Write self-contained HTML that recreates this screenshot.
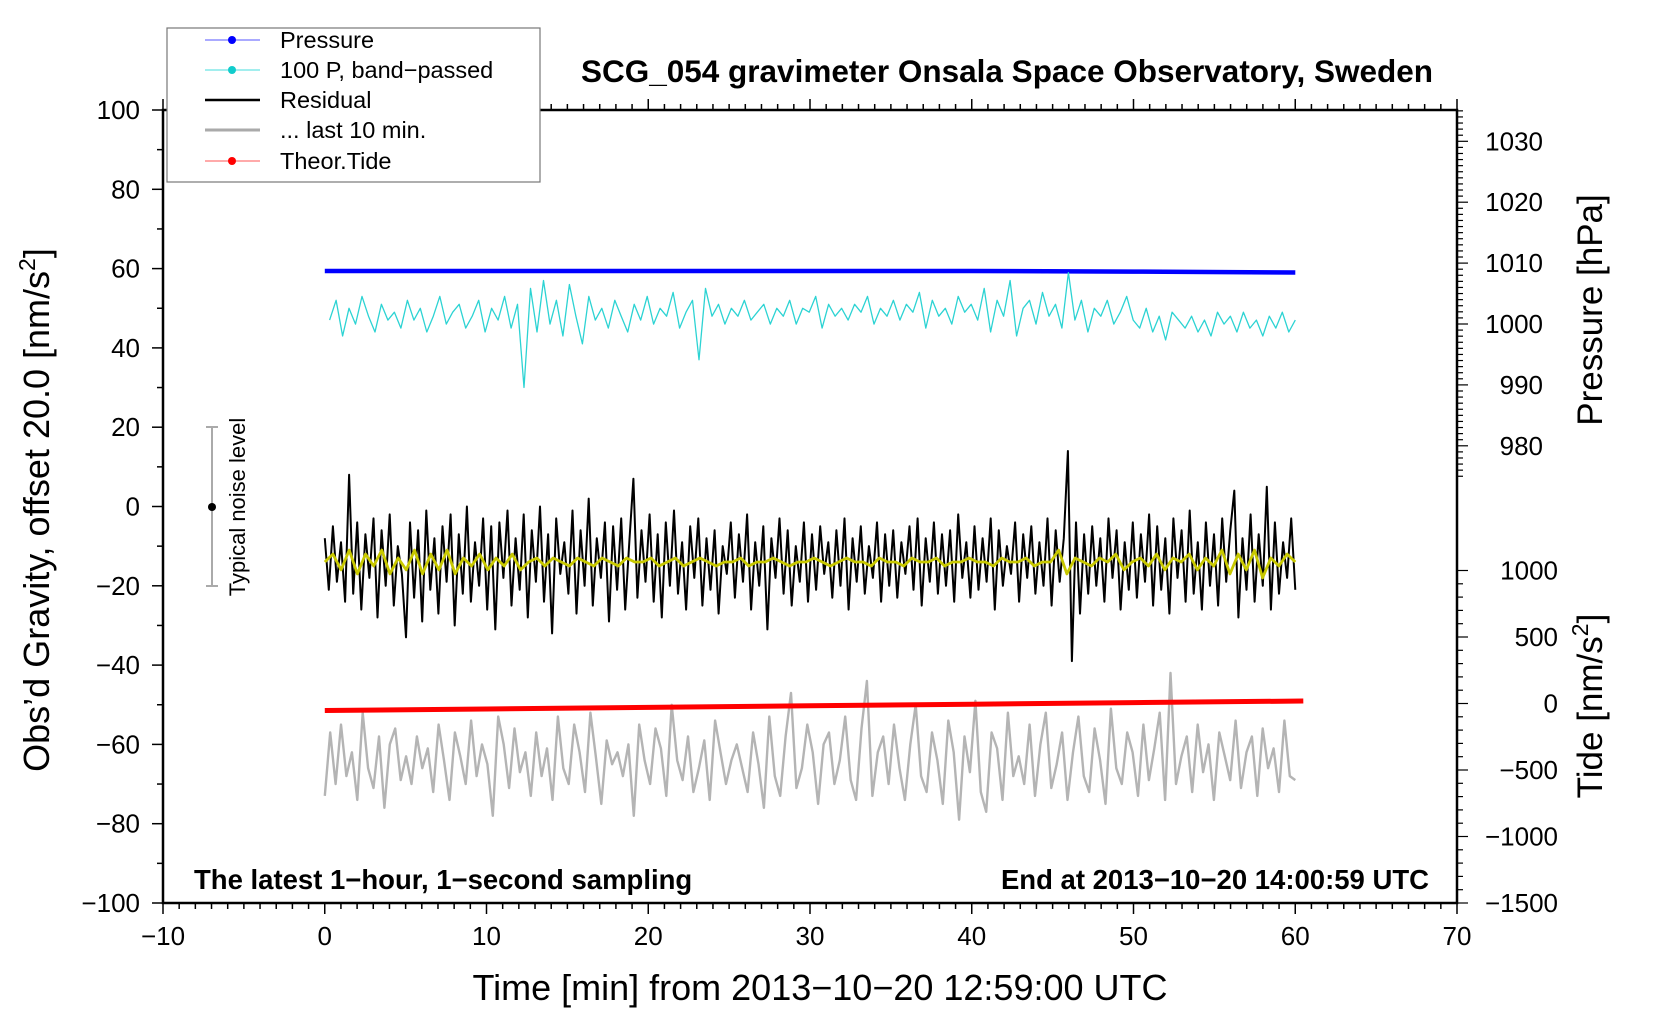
<!DOCTYPE html>
<html><head><meta charset="utf-8"><style>
html,body{margin:0;padding:0;background:#fff;}
svg{display:block;font-family:"Liberation Sans",Arial,sans-serif;}
</style></head><body>
<svg id="chart" width="1660" height="1020" viewBox="0 0 1660 1020" xmlns="http://www.w3.org/2000/svg">
<rect width="1660" height="1020" fill="#fff"/>
<g id="marks"></g>
<g id="axes"></g>
<text x="1007" y="82" font-size="31.5" font-weight="bold" text-anchor="middle">SCG_054 gravimeter Onsala Space Observatory, Sweden</text>
<text x="820" y="1000" font-size="36" text-anchor="middle">Time [min] from 2013−10−20 12:59:00 UTC</text>
<text transform="translate(49,510) rotate(-90)" font-size="36" text-anchor="middle">Obs’d Gravity, offset 20.0 [nm/s<tspan font-size="23" dy="-14">2</tspan><tspan dy="14">]</tspan></text>
<text transform="translate(1602,310) rotate(-90)" font-size="35" text-anchor="middle">Pressure [hPa]</text>
<text transform="translate(1602,706) rotate(-90)" font-size="35" text-anchor="middle">Tide [nm/s<tspan font-size="23" dy="-14">2</tspan><tspan dy="14">]</tspan></text>
<text x="194" y="889" font-size="27.5" font-weight="bold">The latest 1−hour, 1−second sampling</text>
<text x="1429" y="889" font-size="27.5" font-weight="bold" text-anchor="end">End at 2013−10−20 14:00:59 UTC</text>
<g>
<line x1="212" y1="427" x2="212" y2="586" stroke="#aaa" stroke-width="2"/>
<line x1="206" y1="427" x2="218" y2="427" stroke="#aaa" stroke-width="2"/>
<line x1="206" y1="586" x2="218" y2="586" stroke="#aaa" stroke-width="2"/>
<circle cx="212" cy="507" r="4" fill="#000"/>
<text transform="translate(245,507) rotate(-90)" font-size="22" text-anchor="middle">Typical noise level</text>
</g>
<g>
<rect x="167" y="28" width="373" height="154" fill="#fff" stroke="#777" stroke-width="1.2"/>
<g><line x1="205" y1="40" x2="260" y2="40" stroke="#55f" stroke-width="1"/><circle cx="232" cy="40" r="4" fill="#00f"/><text x="280" y="48" font-size="23.5">Pressure</text></g>
<g><line x1="205" y1="70" x2="260" y2="70" stroke="#4dd" stroke-width="1"/><circle cx="232" cy="70" r="4" fill="#1cc"/><text x="280" y="78" font-size="23.5">100 P, band−passed</text></g>
<g><line x1="205" y1="100" x2="260" y2="100" stroke="#000" stroke-width="2.5"/><text x="280" y="108" font-size="23.5">Residual</text></g>
<g><line x1="205" y1="130" x2="260" y2="130" stroke="#aaa" stroke-width="3"/><text x="280" y="138" font-size="23.5">... last 10 min.</text></g>
<g><line x1="205" y1="161" x2="260" y2="161" stroke="#f55" stroke-width="1"/><circle cx="232" cy="161" r="4" fill="#f00"/><text x="280" y="169" font-size="23.5">Theor.Tide</text></g>
</g>
</svg>
<script>
const pressTimes=[0,10,20,30,40,50,60];
const pressVals=[1008.7,1008.7,1008.7,1008.7,1008.7,1008.6,1008.45];
const tideTimes=[0,10,20,30,40,50,60.5];
const tideVals=[-53,-41,-29,-17,-5,7,19];
const cyanVals=[47,52,43,50,46,53,48,44,51,47,49,45,52,47,50,44,48,53,46,49,51,45,48,52,44,50,47,53,45,51,30,55,44,57,46,52,43,56,48,41,53,47,50,45,52,48,44,51,47,53,46,50,48,54,45,49,52,37,55,48,51,46,50,48,52,47,49,51,46,50,48,52,46,50,49,53,45,51,48,50,47,51,49,53,46,50,48,52,47,51,49,54,45,52,48,50,46,53,49,51,47,55,44,52,48,57,43,50,52,46,54,48,51,45,59,47,52,44,50,48,52,46,49,53,47,45,50,44,48,42,49,47,45,48,44,47,43,49,46,48,44,49,45,47,43,48,45,49,44,47];
const residVals=[-8,-21,-5,-19,-9,-24,8,-22,-4,-26,-7,-18,-3,-28,-6,-20,-2,-25,-10,-17,-33,-4,-23,-6,-29,-1,-21,-8,-27,-5,-19,-2,-30,-7,-22,0,-24,-9,-20,-3,-26,-5,-31,-4,-18,-1,-25,-8,-21,-2,-28,-6,-19,0,-24,-7,-32,-3,-17,-9,-22,-1,-27,-6,-20,2,-25,-8,-18,-4,-29,-5,-21,-3,-26,-9,7,-23,-6,-19,-2,-24,-7,-28,-4,-20,-1,-22,-9,-26,-5,-18,-3,-25,-8,-21,-6,-27,-10,-17,-4,-23,-7,-19,-2,-26,-9,-20,-5,-31,-8,-18,-3,-22,-6,-25,-10,-19,-4,-24,-7,-21,-5,-17,-9,-23,-6,-20,-3,-26,-8,-19,-5,-22,-10,-18,-4,-24,-7,-20,-6,-23,-9,-17,-5,-21,-3,-25,-8,-19,-4,-22,-7,-20,-6,-24,-2,-18,-9,-23,-5,-21,-8,-19,-3,-26,-6,-20,-10,-17,-4,-24,-7,-18,-5,-22,-9,-20,-3,-25,-6,-19,-8,14,-39,-4,-27,-7,-22,-5,-20,-8,-24,-3,-18,-6,-26,-9,-21,-4,-23,-7,-19,-2,-25,-5,-21,-8,-27,-3,-18,-6,-24,-1,-22,-9,-26,-4,-20,-7,-25,-3,-19,-6,4,-28,-8,-21,-2,-24,-7,-20,5,-26,-4,-22,-9,-18,-3,-21];
const smoothVals=[-14,-12,-16,-11,-17,-12,-15,-11,-17,-13,-16,-11,-17,-12,-16,-11,-17,-13,-15,-12,-16,-13,-15,-12,-16,-14,-13,-15,-13,-14,-15,-13,-14,-15,-13,-14,-15,-13,-14,-14,-13,-15,-14,-13,-15,-14,-13,-14,-15,-14,-14,-13,-15,-14,-14,-13,-14,-15,-14,-14,-13,-14,-15,-14,-13,-14,-14,-15,-13,-14,-14,-15,-13,-14,-14,-13,-15,-14,-14,-13,-14,-14,-15,-13,-14,-14,-13,-15,-14,-14,-11,-17,-13,-14,-15,-13,-14,-12,-16,-14,-13,-15,-12,-16,-13,-14,-12,-16,-13,-15,-11,-17,-12,-16,-11,-18,-13,-15,-12,-14];
const last10Vals=[-73,-57,-70,-55,-68,-62,-74,-52,-66,-71,-58,-76,-60,-56,-69,-63,-70,-58,-66,-61,-72,-55,-64,-74,-57,-63,-70,-54,-68,-60,-65,-78,-53,-60,-71,-56,-67,-62,-73,-57,-68,-61,-74,-53,-66,-70,-55,-62,-72,-52,-63,-75,-59,-65,-62,-68,-60,-78,-55,-64,-70,-56,-61,-73,-50,-64,-69,-58,-72,-66,-59,-74,-54,-62,-70,-64,-60,-66,-72,-57,-65,-76,-53,-68,-73,-58,-47,-71,-66,-55,-62,-75,-60,-57,-70,-64,-53,-69,-74,-56,-44,-73,-62,-58,-70,-55,-66,-74,-60,-50,-68,-72,-57,-64,-75,-54,-62,-79,-58,-67,-49,-72,-77,-57,-61,-74,-52,-68,-63,-70,-55,-73,-60,-52,-71,-65,-57,-74,-62,-53,-68,-72,-56,-64,-75,-51,-66,-70,-57,-62,-73,-55,-69,-61,-52,-74,-42,-70,-63,-58,-72,-55,-67,-60,-74,-57,-63,-69,-54,-71,-62,-58,-73,-56,-66,-61,-72,-54,-68,-69];
const xTicks=[-10,0,10,20,30,40,50,60,70];
const yTicks=[-100,-80,-60,-40,-20,0,20,40,60,80,100];
const pTicks=[980,990,1000,1010,1020,1030];
const tTicks=[-1500,-1000,-500,0,500,1000];

const X0=163,X1=1457,Y0=903,Y1=110;
const sx=t=>X0+(t+10)/80*(X1-X0);
const sy=g=>Y0-(g+100)/200*(Y0-Y1);
const sp=p=>324-(p-1000)*6.09;
const st=v=>703.5-v*0.133;
const NS='http://www.w3.org/2000/svg';
const marks=document.getElementById('marks'),axes=document.getElementById('axes');
function mk(tag,parent,attrs){const e=document.createElementNS(NS,tag);for(const k in attrs)e.setAttribute(k,attrs[k]);parent.appendChild(e);return e;}
function poly(name,xs,ys,color,w){
  const pts=xs.map((x,i)=>x.toFixed(1)+','+ys[i].toFixed(1)).join(' ');
  const e=mk('polyline',marks,{points:pts,fill:'none',stroke:color,'stroke-width':w,'stroke-linejoin':'round'});
  
  
}
function even(n,t0,t1){return Array.from({length:n},(_,i)=>t0+i*(t1-t0)/(n-1));}
poly('pressure-line',pressTimes.map(sx),pressVals.map(sp),'#00f',4.5);
let ct=even(cyanVals.length,0.3,60);
poly('bandpassed-pressure-line',ct.map(sx),cyanVals.map(sy),'#2cd3d3',1.3);
let rt=even(residVals.length,0,60);
poly('residual-line',rt.map(sx),residVals.map(sy),'#000',2);
let yt=even(smoothVals.length,0,60);
poly('residual-smoothed-line',yt.map(sx),smoothVals.map(sy),'#c8c800',2.8);
let gt=even(last10Vals.length,0,60);
poly('last-10min-line',gt.map(sx),last10Vals.map(sy),'#b4b4b4',2.4);
poly('theoretical-tide-line',tideTimes.map(sx),tideVals.map(st),'#f00',5);

const frame=mk('rect',axes,{x:X0,y:Y1,width:X1-X0,height:Y0-Y1,fill:'none',stroke:'#000','stroke-width':2.5});


function ln(x1,y1,x2,y2,w){mk('line',axes,{x1,y1,x2,y2,stroke:'#000','stroke-width':w||1.5});}
function tx(x,y,s,anchor,name,fs){const e=mk('text',axes,{x,y,'font-size':fs||25,'text-anchor':anchor});e.textContent=s;
  
  }
const fmt=v=>String(v).replace('-','−');
for(let t=-10;t<=70;t+=1){const L=(t%10===0)?11:6;ln(sx(t),Y0,sx(t),Y0+L);ln(sx(t),Y1,sx(t),Y1-L);}
xTicks.forEach(t=>tx(sx(t),945,fmt(t),'middle','x-tick-label',26));
for(let g=-100;g<=100;g+=10){const L=(g%20===0)?11:6;ln(X0,sy(g),X0-L,sy(g));}
yTicks.forEach(g=>tx(140,sy(g)+9,fmt(g),'end','y-tick-label',26));
for(let p=975;p<=1036;p+=1){const y=sp(p);if(y<Y1)continue;const L=(p%10===0)?11:6;ln(X1,y,X1+L,y,1.2);}
pTicks.forEach(p=>tx(1543,sp(p)+9,fmt(p),'end','pressure-tick-label',26));
for(let v=-1500;v<=1000;v+=100){const L=(v%500===0)?11:6;ln(X1,st(v),X1+L,st(v),1.2);}
tTicks.forEach(v=>tx(1558,st(v)+9,fmt(v),'end','tide-tick-label',26));
</script>
</body></html>
